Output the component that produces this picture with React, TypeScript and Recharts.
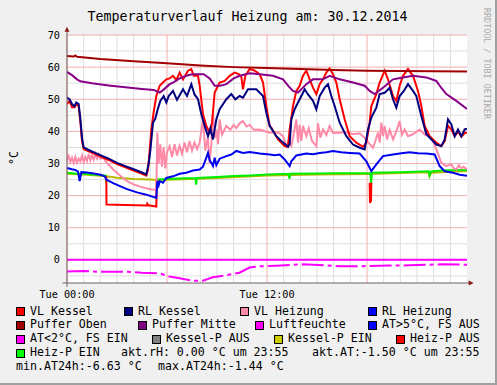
import { CartesianGrid, Line, LineChart, ReferenceLine, XAxis, YAxis } from "recharts";

type Pt = [number, number | null];

// time in hours (0 = Tue 00:00), value in °C
const hourTicks = [0, 12];
const hourLabels = ["Tue 00:00", "Tue 12:00"];
const valueTicks = [0, 10, 20, 30, 40, 50, 60, 70];
const minorHours = [1, 2, 3, 4, 5, 7, 8, 9, 10, 11, 13, 14, 15, 16, 17, 19, 20, 21, 22, 23];
const majorHours = [0, 6, 12, 18];
const minorValues = [-5, 5, 15, 25, 35, 45, 55, 65];
const majorValues = [0, 10, 20, 30, 40, 50, 60, 70];

const vlKessel: Pt[] = [
  [0, 48.5], [0.15, 49.5], [0.3, 47.5], [0.45, 47.5], [0.55, 48.5], [0.7, 47.8], [0.8, 43], [0.9, 37],
  [1.0, 34.5], [1.3, 33.8], [2, 32.2], [2.5, 31.1], [3, 29.8], [3.5, 28.8], [4, 27.8], [4.5, 26.8],
  [4.76, 26.2], [4.86, 28], [4.96, 34], [5.06, 40.6], [5.2, 46], [5.36, 51], [5.56, 54.2], [5.76, 55.2],
  [5.96, 56.2], [6.16, 56.5], [6.36, 57.3], [6.56, 56], [6.76, 58.3], [6.96, 56.2], [7.26, 58.9],
  [7.46, 59.4], [7.6, 57.3], [7.86, 57.3], [7.96, 54.2], [8.16, 45.3], [8.36, 41.7], [8.56, 39.6],
  [8.7, 42.7], [8.86, 52.1], [9.16, 55.2], [9.46, 55.7], [9.76, 57.3], [10.06, 58.3], [10.3, 57.8],
  [10.46, 57], [10.56, 53.1], [10.7, 57.3], [10.96, 59.4], [11.26, 58.9], [11.56, 57.8], [11.76, 55.2],
  [11.96, 47.9], [12.16, 41.7], [12.26, 41.2], [12.66, 37.5], [13.06, 35.4], [13.26, 35.2], [13.36, 40.6],
  [13.56, 47.9], [13.76, 52.6], [13.96, 54.2], [14.16, 57.3], [14.36, 58.9], [14.56, 56.2], [14.76, 53.6],
  [14.96, 51.6], [15.16, 54.7], [15.36, 56.2], [15.56, 58.3], [15.76, 59.6], [15.96, 57.8], [16.16, 55.2],
  [16.36, 50], [16.66, 43.75], [16.96, 38.5], [17.36, 36.5], [17.76, 35.2], [17.96, 36.5], [18.16, 42.7],
  [18.26, 47.9], [18.56, 51.6], [18.76, 55.2], [19.06, 58.9], [19.26, 56.2], [19.56, 51], [19.76, 49.5],
  [19.96, 54.2], [20.16, 57.3], [20.46, 59.4], [20.76, 57.3], [21.06, 52.6], [21.26, 47.9], [21.46, 41.7],
  [21.76, 38.5], [22.16, 36.5], [22.46, 35.4], [22.66, 37], [22.86, 41.7], [23.06, 40.6], [23.26, 38.5],
  [23.46, 40], [23.66, 38.3], [23.86, 39.5], [24, 39.6]
];

const rlKessel: Pt[] = [
  [0, 50.5], [0.15, 50], [0.3, 48.5], [0.45, 47.8], [0.55, 49], [0.7, 48.5], [0.8, 44], [0.9, 38],
  [1.0, 35], [1.3, 34.2], [2, 32.6], [2.5, 31.5], [3, 30.2], [3.5, 29.2], [4, 28.2], [4.5, 27.2],
  [4.76, 26.6], [4.9, 30], [5.0, 34], [5.16, 42.7], [5.3, 44], [5.45, 47], [5.6, 49.5], [5.8, 51],
  [5.96, 49], [6.1, 51], [6.36, 52.6], [6.6, 49.8], [6.96, 53.1], [7.2, 51], [7.46, 54.7], [7.65, 51.5],
  [7.86, 50], [8.06, 45.3], [8.26, 41.7], [8.46, 38.5], [8.6, 41], [8.76, 37.5], [8.96, 43.75], [9.16, 46.9],
  [9.56, 50], [9.86, 51.6], [10.1, 50], [10.36, 51], [10.56, 50.5], [10.86, 53.1], [11.36, 53.1],
  [11.76, 51], [11.96, 45.8], [12.16, 41.7], [12.56, 38.5], [12.96, 36.5], [13.26, 35.2], [13.36, 36],
  [13.46, 43.75], [13.66, 46.9], [13.86, 49], [14.06, 51], [14.26, 53.1], [14.46, 51.5], [14.76, 49.5],
  [14.96, 46.9], [15.16, 51], [15.46, 53.6], [15.66, 54.7], [15.86, 51], [16.06, 47.9], [16.36, 42.7],
  [16.76, 38.5], [17.16, 35.9], [17.56, 34.9], [17.86, 34.4], [18.06, 40.6], [18.26, 44.3], [18.56, 47.4],
  [18.76, 51.6], [19.06, 52], [19.36, 53.6], [19.56, 50], [19.76, 47.4], [19.96, 51], [20.2, 52.5],
  [20.46, 54.7], [20.76, 52.6], [20.96, 51], [21.26, 44.8], [21.56, 39.1], [21.86, 37.5], [22.16, 35.9],
  [22.46, 35.4], [22.66, 37.5], [22.86, 43.75], [23.06, 42.2], [23.26, 38.5], [23.46, 40.6], [23.66, 38.5],
  [23.86, 40.6], [24, 40.8]
];

const vlHeizung: Pt[] = [
  [0, 31], [0.1, 32.3], [0.2, 30.5], [0.3, 31.8], [0.4, 30.2], [0.5, 32], [0.6, 30.3], [0.7, 31.5],
  [0.8, 30.7], [0.9, 32.5], [1.0, 30.5], [1.1, 32], [1.2, 30.8], [1.3, 33], [1.4, 31], [1.5, 32.5],
  [1.6, 31.2], [1.7, 33], [1.8, 31.5], [1.9, 32.8], [2.0, 31.5], [2.16, 31.8], [2.4, 30.2], [2.8, 28],
  [3.2, 26.2], [3.6, 24.5], [4, 23.5], [4.4, 22.8], [4.8, 22.2], [5.2, 21.8], [5.36, 21.9], [5.42, 39.6],
  [5.5, 30], [5.6, 36], [5.7, 29], [5.8, 35], [5.9, 28.5], [6.0, 33.5], [6.16, 35.4], [6.3, 32],
  [6.45, 36], [6.6, 32.5], [6.75, 35.5], [6.9, 33], [7.05, 36.5], [7.2, 33.5], [7.35, 37], [7.5, 34],
  [7.65, 36.5], [7.8, 34.5], [7.96, 36.5], [8.16, 43.75], [8.3, 34], [8.45, 38], [8.56, 30.2], [8.66, 36],
  [8.76, 45.8], [8.86, 38], [8.96, 40.6], [9.06, 36], [9.16, 43.75], [9.3, 39], [9.56, 41.7], [9.8, 40.5],
  [10.0, 42], [10.16, 41], [10.36, 42.5], [10.56, 43.2], [10.76, 41.5], [10.96, 42], [11.2, 40.5],
  [11.56, 40.6], [12.16, 39.6], [12.5, 39.8], [12.76, 39.4], [12.96, 38.5], [13.16, 35.4], [13.3, 37],
  [13.46, 35.5], [13.6, 39], [13.76, 43.75], [13.86, 36.5], [13.96, 42], [14.06, 37], [14.16, 41.7],
  [14.36, 38.5], [14.5, 41], [14.7, 37], [14.96, 35.4], [15.06, 42.5], [15.2, 38], [15.36, 40.6],
  [15.56, 38.8], [15.76, 41.7], [15.96, 39.5], [16.36, 39.6], [16.76, 39.8], [17.16, 39.1], [17.56, 39.4],
  [17.96, 37.5], [18.16, 36], [18.36, 34.9], [18.5, 37], [18.66, 39.6], [18.76, 36.5], [18.86, 42.7],
  [18.96, 38.5], [19.06, 41.7], [19.2, 37.5], [19.36, 40.5], [19.56, 37.5], [19.76, 40], [19.96, 43.2],
  [20.1, 39], [20.26, 40.6], [20.46, 38.5], [20.76, 39.1], [21.16, 40.6], [21.46, 39], [21.76, 38.5],
  [21.96, 37], [22.16, 34.4], [22.46, 30.2], [22.76, 29.2], [23.06, 29.8], [23.2, 28.5], [23.36, 28.1],
  [23.5, 29.5], [23.66, 28.5], [23.8, 29], [24, 28.1]
];

const rlHeizung: Pt[] = [
  [0, 28.6], [0.3, 28.2], [0.5, 28], [0.66, 27.5], [0.76, 24.5], [0.86, 27.3], [1.2, 27.2], [1.6, 26.9],
  [2, 26.5], [2.26, 26], [2.36, 25], [2.8, 23.8], [3.56, 22.1], [4.2, 21], [4.76, 20.3], [5.36, 19.3],
  [5.42, 24.5], [5.5, 23.2], [5.56, 24.5], [5.76, 24], [5.96, 25.5], [6.36, 26], [6.76, 26.8], [7.16, 27.1],
  [7.56, 27.8], [7.96, 28.1], [8.16, 29], [8.36, 31.8], [8.46, 33.3], [8.56, 31], [8.66, 30.2], [8.76, 29.2],
  [8.86, 31.8], [8.96, 29.5], [9.16, 31.5], [9.56, 32.3], [9.86, 32.8], [10.16, 33.9], [10.56, 33.3],
  [10.96, 33.6], [11.56, 33.1], [12.16, 32.8], [12.46, 32.6], [12.76, 32.8], [13.06, 31.25], [13.36, 29.2],
  [13.46, 30.7], [13.76, 32.5], [14.36, 33.1], [14.76, 32.9], [15.16, 33.3], [15.56, 33.5], [15.96, 33.9],
  [16.46, 33.5], [16.96, 33.3], [17.56, 33.1], [17.96, 30.7], [18.26, 27.6], [18.56, 29.7], [18.96, 32.3],
  [19.56, 32.8], [20.06, 33.2], [20.56, 33.5], [21.06, 33.2], [21.56, 33.1], [22.06, 32.8], [22.36, 29.2],
  [22.66, 27.6], [23.16, 27.1], [23.56, 26.5], [24, 26.2]
];

const pufferOben: Pt[] = [
  [0, 63.5], [0.4, 63.3], [0.5, 63.6], [0.6, 63.2], [2, 62.5], [4, 61.8], [6, 61.2], [8, 60.5],
  [10, 60], [12, 59.7], [14, 59.4], [16, 59.1], [18, 58.9], [20, 58.8], [22, 58.7], [24, 58.6]
];

const pufferMitte: Pt[] = [
  [0, 58.5], [0.3, 57.5], [0.6, 56.2], [0.8, 55.6], [1.5, 55], [2.5, 54.3], [3.5, 53.7], [4.5, 53.2],
  [5.2, 52.9], [5.56, 52.1], [5.8, 53], [6.16, 54.7], [6.36, 55.2], [6.76, 56.5], [7.16, 57.3], [7.5, 57.8],
  [8.2, 57.8], [8.56, 56.5], [8.86, 54.2], [9.2, 54.2], [9.56, 54.7], [10.0, 56.5], [10.36, 57.3],
  [10.96, 58.1], [11.56, 57.8], [12.36, 57.3], [12.96, 56.2], [13.3, 54], [13.56, 52.6], [13.86, 52.1],
  [14.1, 53.3], [14.36, 54.7], [14.76, 56.2], [15.36, 56.2], [15.76, 57.3], [16.36, 56.2], [17.16, 55.2],
  [17.86, 54.2], [18.16, 52.6], [18.46, 51.6], [18.96, 53.6], [19.56, 56.2], [20.16, 56.8], [20.76, 57.3],
  [21.56, 56.8], [22.16, 55.7], [22.46, 53.5], [22.76, 51.6], [23.36, 49.5], [24, 47]
];

const luftfeuchte: Pt[] = [[0, 0], [24, 0]];

const aussenTemp: Pt[] = [
  [0, -3.6], [1, -3.5], [2, -3.7], [3.55, -3.7], [4.5, -4.0], [5.55, -4.2], [6.15, -5.2], [6.75, -5.7],
  [7.55, -6.5], [8.15, -6.5], [8.75, -5.4], [9.55, -4.8], [10.35, -4.0], [10.95, -2.4], [11.55, -2.0],
  [12.55, -1.8], [14.15, -1.4], [15.55, -1.7], [16.35, -2.0], [17.55, -2.0], [18.75, -1.8], [20.55, -1.7],
  [22.5, -1.4], [24, -1.5]
];

const kesselPEin: Pt[] = [
  [0, 26.8], [1, 26.6], [2, 26.2], [2.36, 26.0], [3, 25.6], [4, 25.2], [5, 25], [5.4, 24.9], [7, 25.1],
  [9, 25.5], [12, 26.3], [15, 26.6], [18, 26.7], [21, 27.2], [21.7, 27.2], [21.75, 26], [21.85, 27.1],
  [24, 27.7]
];

const heizPEin: Pt[] = [
  [0, 27.1], [0.5, 26.9], [1, 26.8], [1.5, 26.6], [2, 26.4], [2.33, 26.2], [2.36, 23.9], [2.36, null],
  [5.4, 25], [6, 25.2], [7, 25.4], [7.7, 25.5], [7.75, 23.4], [7.8, 25.5], [9, 25.8], [10, 26.1],
  [11, 26.3], [12, 26.6], [13.3, 26.8], [13.35, 25.2], [13.4, 26.8], [15, 26.9], [16, 27], [17, 27],
  [18.2, 27], [18.25, 23.9], [18.3, 27.1], [19, 27.2], [20, 27.3], [21.7, 27.6], [21.75, 26.3],
  [21.85, 27.5], [22.5, 27.8], [23, 27.9], [24, 28]
];

const heizPAus: Pt[] = [
  [2.36, 26], [2.37, 17.2], [3.5, 17.1], [4.8, 16.9], [4.82, 17.5], [4.88, 17.0], [5.36, 16.6],
  [5.38, 25], [5.38, null], [18.16, 24], [18.18, 17.7], [18.24, 18.5], [18.26, 24]
];

const legendRows = [
  [["VL Kessel", "#ff0000"], ["RL Kessel", "#000080"], ["VL Heizung", "#ff8aa8"], ["RL Heizung", "#0000ff"]],
  [["Puffer Oben", "#a00000"], ["Puffer Mitte", "#800080"], ["Luftfeuchte", "#ff00ff"], ["AT>5°C, FS AUS", "#0000ff"]],
  [["AT<2°C, FS EIN", "#ff00ff"], ["Kessel-P AUS", "#808080"], ["Kessel-P EIN", "#cccc00"], ["Heiz-P AUS", "#ff0000"]],
  [["Heiz-P EIN", "#00ff00"]]
];
const statTexts = [
  "akt.rH: 0.00 °C um 23:55",
  "akt.AT:-1.50 °C um 23:55",
  "min.AT24h:-6.63 °C",
  "max.AT24h:-1.44 °C"
];

// layout
const legendX = [[16, 124, 240, 368], [16, 138, 255, 368], [16, 152, 274, 396], [16]];
const legendBase = [315.7, 329.3, 343.3, 357, 371.3];
const MONO = '"DejaVu Sans Mono", monospace';
const AXIS = "#6e6262";
const ARROW = "#8c1a1a";

const rows = (pts: Pt[]) => pts.map(([h, v]) => ({ h, v }));

function AxisArrow(props: any) {
  const { x1, y1, x2, y2 } = props;
  if (Math.abs(y1 - y2) < 0.5) {
    const tip = Math.max(x1, x2);
    const start = Math.min(x1, x2);
    return (
      <g>
        <line x1={start} y1={y1} x2={tip - 4} y2={y1} stroke={AXIS} strokeWidth={1} />
        <polygon points={`${tip},${y1} ${tip - 5},${y1 - 2.5} ${tip - 5},${y1 + 2.5}`} fill={ARROW} />
      </g>
    );
  }
  const tip = Math.min(y1, y2);
  const start = Math.max(y1, y2);
  return (
    <g>
      <line x1={x1} y1={start} x2={x1} y2={tip + 4} stroke={AXIS} strokeWidth={1} />
      <polygon points={`${x1},${tip} ${x1 - 2.5},${tip + 5} ${x1 + 2.5},${tip + 5}`} fill={ARROW} />
    </g>
  );
}

function Text({ x, base, size, children }: { x: number; base: number; size: number; children: any }) {
  return (
    <div
      style={{
        position: "absolute",
        left: x,
        top: base - size * 0.95,
        fontSize: size,
        lineHeight: `${size * 1.16}px`,
        whiteSpace: "pre",
        color: "#000"
      }}
    >
      {children}
    </div>
  );
}

export default function App() {
  const lineProps = { type: "linear" as const, dataKey: "v", dot: false, isAnimationActive: false, strokeWidth: 2 };
  return (
    <div
      style={{
        position: "absolute",
        left: 0,
        top: 0,
        width: 497,
        height: 385,
        background: "#f0f0f0",
        boxSizing: "border-box",
        borderRight: "2px solid #a0a0a0",
        borderBottom: "2px solid #a0a0a0",
        fontFamily: MONO,
        overflow: "hidden"
      }}
    >
      <div style={{ position: "absolute", left: 0, top: 0 }}>
        <LineChart width={497} height={385} margin={{ top: 35, right: 30, bottom: 82, left: 0 }}>
          <CartesianGrid
            fill="#ffffff"
            stroke="#dedede"
            verticalValues={minorHours}
            horizontalValues={minorValues}
          />
          <CartesianGrid stroke="#f2aeae" verticalValues={majorHours} horizontalValues={majorValues} />
          <XAxis
            type="number"
            dataKey="h"
            domain={[0, 24]}
            ticks={hourTicks}
            interval={0}
            height={20}
            tickFormatter={(v) => hourLabels[hourTicks.indexOf(Number(v))] ?? ""}
            tick={{ fontSize: 10.2, fill: "#000", fontFamily: MONO }}
            tickLine={false}
            axisLine={false}
            tickSize={0}
            tickMargin={8}
            allowDataOverflow
          />
          <YAxis
            type="number"
            domain={[-7.2, 70]}
            ticks={valueTicks}
            interval={0}
            width={67}
            tick={{ fontSize: 10.2, fill: "#000", fontFamily: MONO }}
            tickLine={false}
            axisLine={false}
            tickSize={0}
            tickMargin={7}
            allowDataOverflow
          />
          <Line {...lineProps} data={rows(kesselPEin)} stroke="#b8b800" />
          <Line {...lineProps} data={rows(heizPEin)} stroke="#00ee00" />
          <Line {...lineProps} data={rows(heizPAus)} stroke="#ff0000" />
          <Line {...lineProps} data={rows(vlHeizung)} stroke="#ff8aa8" />
          <Line {...lineProps} data={rows(rlHeizung)} stroke="#0000ee" />
          <Line {...lineProps} data={rows(vlKessel)} stroke="#ff0000" />
          <Line {...lineProps} data={rows(rlKessel)} stroke="#000080" />
          <Line {...lineProps} data={rows(pufferMitte)} stroke="#880088" />
          <Line {...lineProps} data={rows(pufferOben)} stroke="#a00000" />
          <Line {...lineProps} data={rows(luftfeuchte)} stroke="#ff00ff" />
          <Line {...lineProps} data={rows(aussenTemp)} stroke="#ff00ff" strokeDasharray="22 4 4 4" />
          <ReferenceLine
            segment={[{ x: -0.27, y: -7.2 }, { x: 24.4, y: -7.2 }]}
            ifOverflow="visible"
            shape={AxisArrow}
          />
          <ReferenceLine
            segment={[{ x: 0, y: -8.4 }, { x: 0, y: 72.6 }]}
            ifOverflow="visible"
            shape={AxisArrow}
          />
        </LineChart>
      </div>

      <div
        style={{
          position: "absolute",
          left: 0,
          top: 8.5,
          width: 495,
          textAlign: "center",
          fontSize: 13.3,
          lineHeight: "16px",
          whiteSpace: "pre"
        }}
      >
        Temperaturverlauf Heizung am: 30.12.2014
      </div>

      <div
        style={{
          position: "absolute",
          left: 14,
          top: 158,
          fontSize: 11.6,
          lineHeight: "14px",
          transform: "translate(-50%, -50%) rotate(-90deg)",
          whiteSpace: "pre"
        }}
      >
        °C
      </div>

      <div
        style={{
          position: "absolute",
          left: 492,
          top: 8,
          fontSize: 8.4,
          lineHeight: "10px",
          color: "#aaaaaa",
          transform: "rotate(90deg)",
          transformOrigin: "0 0",
          whiteSpace: "pre"
        }}
      >
        RRDTOOL / TOBI OETIKER
      </div>

      {legendRows.map((row, r) =>
        row.map(([label, color], i) => (
          <div key={`${r}-${i}`}>
            <div
              style={{
                position: "absolute",
                left: legendX[r][i],
                top: legendBase[r] - 8.3,
                width: 9,
                height: 9,
                boxSizing: "border-box",
                border: "1px solid #000",
                background: color
              }}
            />
            <Text x={legendX[r][i] + 14} base={legendBase[r]} size={11.6}>
              {label}
            </Text>
          </div>
        ))
      )}
      <Text x={121} base={legendBase[3]} size={11.6}>{statTexts[0]}</Text>
      <Text x={312} base={legendBase[3]} size={11.6}>{statTexts[1]}</Text>
      <Text x={16} base={legendBase[4]} size={11.6}>{statTexts[2]}</Text>
      <Text x={158} base={legendBase[4]} size={11.6}>{statTexts[3]}</Text>
    </div>
  );
}
